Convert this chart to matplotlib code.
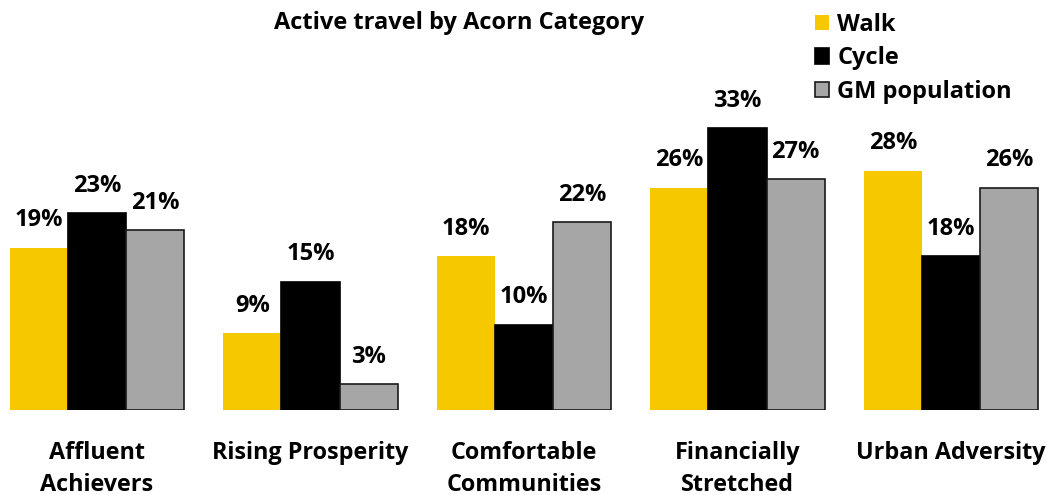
import numpy as np
import matplotlib
matplotlib.use('Agg')
import matplotlib.pyplot as plt
from matplotlib.patches import Patch

categories = ['Affluent\nAchievers', 'Rising Prosperity', 'Comfortable\nCommunities',
              'Financially\nStretched', 'Urban Adversity']
walk = [19, 9, 18, 26, 28]
cycle = [23, 15, 10, 33, 18]
gm_population = [21, 3, 22, 27, 26]
series_names = ['Walk', 'Cycle', 'GM population']

plt.rcParams['font.family'] = ['Open Sans', 'DejaVu Sans']

fig = plt.figure(figsize=(10.48, 4.95), dpi=100)
ax = fig.add_axes([0, 85 / 495, 1, 410 / 495])

x = np.arange(len(categories))
w = 0.272
colors = ['#F5C800', '#000000', '#A6A6A6']
edges = ['none', '#000000', '#1a1a1a']
for i, (vals, c, e) in enumerate(zip([walk, cycle, gm_population], colors, edges)):
    bars = ax.bar(x + (i - 1) * w, vals, w, color=c, edgecolor=e, linewidth=1.2)
    for b, v in zip(bars, vals):
        ax.annotate(f'{v}%', (b.get_x() + b.get_width() / 2, v), xytext=(0, 11),
                    textcoords='offset points', ha='center', va='bottom',
                    fontsize=17, fontweight='bold')

ax.set_xlim(-0.454, 4.454)
ax.set_ylim(0, 410 / 8.55)
ax.set_xticks(x, categories, fontsize=16.8, fontweight='bold', linespacing=1.45)
ax.tick_params(axis='x', length=0, pad=22)
ax.set_yticks([])
for s in ax.spines.values():
    s.set_visible(False)

fig.text(0.438, 0.953, 'Active travel by Acorn Category', ha='center', va='center',
         fontsize=17, fontweight='bold')

handles = [Patch(facecolor=c, edgecolor=e, linewidth=1.2) for c, e in zip(colors, edges)]
fig.legend(handles, series_names, loc='upper left', bbox_to_anchor=(0.757, 1.017),
           frameon=False, prop={'size': 17, 'weight': 'bold'},
           handlelength=0.62, handleheight=0.62, handletextpad=0.35, labelspacing=0.4)

fig.savefig('out.png', dpi=100)
